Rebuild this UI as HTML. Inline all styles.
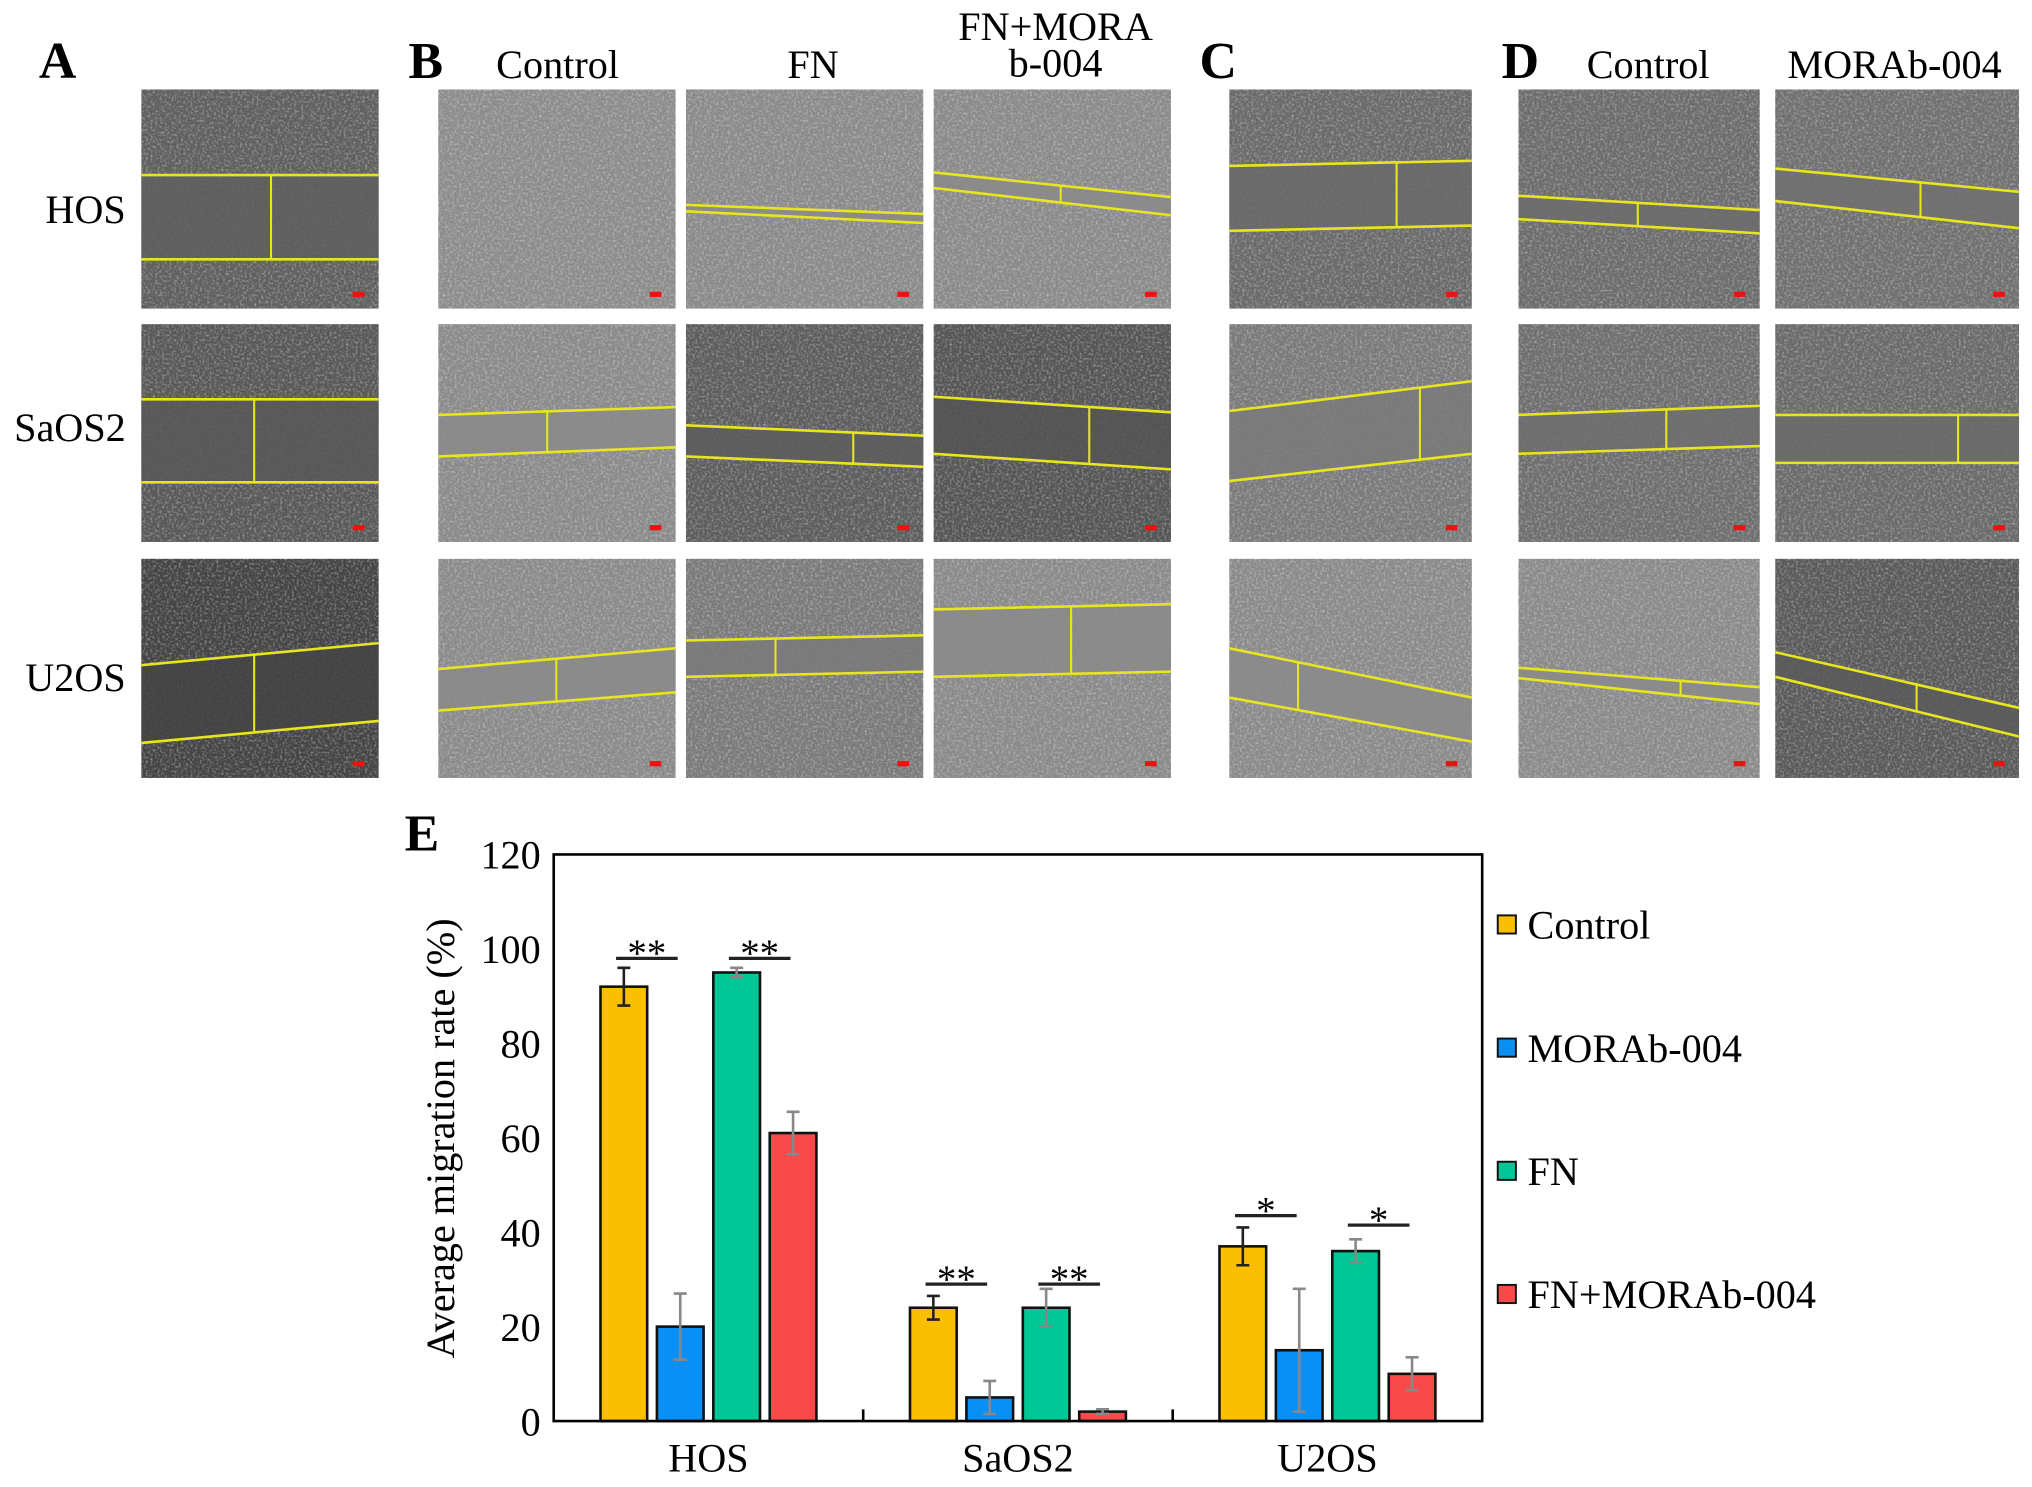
<!DOCTYPE html>
<html><head><meta charset="utf-8"><style>
html,body{margin:0;padding:0;background:#fff}
svg, svg text{font-family:"Liberation Serif","DejaVu Serif",serif}
</style></head><body>
<svg id="fig" width="2032" height="1482" viewBox="0 0 1567 1143" preserveAspectRatio="none" xmlns="http://www.w3.org/2000/svg" font-family="Liberation Serif, DejaVu Serif, serif">
<defs>
<filter id="noise" x="0" y="0" width="100%" height="100%">
<feTurbulence type="fractalNoise" baseFrequency="0.55" numOctaves="2" seed="3"/>
<feColorMatrix type="matrix" values="0 0 0 0 1  0 0 0 0 1  0 0 0 0 1  1.8 0 0 0 -0.8"/>
</filter>
</defs>
<g id="panels"></g>
<g id="labels">
<text x="30" y="60" font-size="40" font-weight="bold">A</text>
<text x="315" y="60" font-size="40" font-weight="bold">B</text>
<text x="925" y="60" font-size="40" font-weight="bold">C</text>
<text x="1158" y="60" font-size="40" font-weight="bold">D</text>
<text x="312" y="656" font-size="40" font-weight="bold">E</text>
<text x="430" y="60" font-size="31" text-anchor="middle">Control</text>
<text x="627" y="60" font-size="31" text-anchor="middle">FN</text>
<text x="814" y="31" font-size="31" text-anchor="middle">FN+MORA</text>
<text x="814" y="59" font-size="31" text-anchor="middle">b-004</text>
<text x="1271" y="60" font-size="31" text-anchor="middle">Control</text>
<text x="1461" y="60" font-size="31" text-anchor="middle">MORAb-004</text>
<text x="97" y="172" font-size="31" text-anchor="end">HOS</text>
<text x="97" y="340" font-size="31" text-anchor="end">SaOS2</text>
<text x="97" y="533" font-size="31" text-anchor="end">U2OS</text>
</g>
<g id="chart"></g>
</svg>
<script>
const NS='http://www.w3.org/2000/svg';
function mk(tag,attrs,parent){const e=document.createElementNS(NS,tag);for(const k in attrs)e.setAttribute(k,attrs[k]);parent.appendChild(e);return e;}

// ---- micrographs ----
const cols=[[109,292],[338,521],[529,712],[720,903],[948,1135],[1171,1357],[1369,1557]];
const rows=[[69,238],[250,418],[431,600]];
const tones=[["#5f5f5f","#585858","#444"],["#8c8c8c","#8a8a8a","#8a8a8a"],["#8a8a8a","#5d5d5d","#7a7a7a"],["#8a8a8a","#555","#8a8a8a"],["#6a6a6a","#7a7a7a","#8a8a8a"],["#6c6c6c","#6e6e6e","#8a8a8a"],["#707070","#6a6a6a","#5a5a5a"]];
const lines=[
 [[135,135,200,200,209],[308,308,372,372,196],[513,496,573,556,196]],
 [null,[320,314,352,345,422],[516,500,548,534,429]],
 [[158,165,163,172,null],[328,336,352,360,658],[494,490,522,518,598]],
 [[133,152,145,166,818],[306,318,350,362,840],[470,466,522,518,826]],
 [[128,124,178,174,1077],[317,294,371,350,1095],[500,538,538,572,1001]],
 [[151,162,169,180,1263],[320,313,350,344,1285],[515,530,523,543,1296]],
 [[130,148,155,176,1481],[320,320,357,357,1510],[503,546,522,568,1478]]
];
const pg=document.getElementById('panels');
cols.forEach((c,ci)=>rows.forEach((r,ri)=>{
 const g=mk('g',{},pg);
 
 
 const w=c[1]-c[0],h=r[1]-r[0];
 mk('rect',{x:c[0],y:r[0],width:w,height:h,fill:tones[ci][ri]},g);
 mk('rect',{x:c[0],y:r[0],width:w,height:h,filter:'url(#noise)',opacity:0.5},g);
 const L=lines[ci][ri];
 if(L){
  mk('polygon',{points:`${c[0]},${L[0]} ${c[1]},${L[1]} ${c[1]},${L[3]} ${c[0]},${L[2]}`,fill:tones[ci][ri],opacity:0.85},g);
  mk('line',{x1:c[0],y1:L[0],x2:c[1],y2:L[1],stroke:'#e6e61e','stroke-width':2},g);
  mk('line',{x1:c[0],y1:L[2],x2:c[1],y2:L[3],stroke:'#e6e61e','stroke-width':2},g);
  if(L[4]){const t=(L[4]-c[0])/w;mk('line',{x1:L[4],y1:L[0]+(L[1]-L[0])*t,x2:L[4],y2:L[2]+(L[3]-L[2])*t,stroke:'#e6e61e','stroke-width':1.6},g);}
 }
 mk('rect',{x:c[1]-20,y:r[1]-13,width:9,height:4,fill:'#f01010'},g);
}));

// ---- chart data ----
const categories=['HOS','SaOS2','U2OS'];
const seriesNames=['Control','MORAb-004','FN','FN+MORAb-004'];
const controlVals=[92,24,37];
const morabVals=[20,5,15];
const fnVals=[95,24,36];
const fnMorabVals=[61,2,10];
const controlErr=[4,2.5,4];
const morabErr=[7,3.5,13];
const fnErr=[1,4,2.5];
const fnMorabErr=[4.5,0.5,3.5];
const yTicks=[0,20,40,60,80,100,120];
const sigLabels=['**','**','**','**','*','*'];
const sigValues=[98,98,29,29,43.5,41.5];
const sigGroups=[0,0,1,1,2,2];
const sigPairStart=[0,2,0,2,0,2];

const colors=['#fbbf00','#0a8ff5','#00c795','#f84a4a'];
const errColors=['#222','#888','#888','#888'];
const X0=427,X1=1143,Y0=1096,Y1=659,YMAX=120;
const y=v=>Y0-(v/YMAX)*(Y0-Y1);
const groupW=(X1-X0)/3;
const barW=36,barStep=43.5;
const xBar=(gi,si)=>X0+groupW*(gi+0.5)+(si-1.5)*barStep-barW/2;
const ch=document.getElementById('chart');
const series=[controlVals,morabVals,fnVals,fnMorabVals];
const errs=[controlErr,morabErr,fnErr,fnMorabErr];

yTicks.forEach(t=>{
 const tx=mk('text',{x:X0-10,y:y(t)+11,'font-size':31,'text-anchor':'end'},ch);
 tx.textContent=t;
 
 
});
categories.forEach((c,gi)=>{
 const tx=mk('text',{x:X0+groupW*(gi+0.5),y:1135,'font-size':31,'text-anchor':'middle'},ch);
 tx.textContent=c;
 
 
 if(gi>0){const tk=mk('line',{x1:X0+groupW*gi,y1:Y0,x2:X0+groupW*gi,y2:Y0-9,stroke:'#000','stroke-width':2},ch);
 
 }
});
series.forEach((vals,si)=>vals.forEach((v,gi)=>{
 const bx=xBar(gi,si);
 const b=mk('rect',{x:bx,y:y(v),width:barW,height:Y0-y(v),fill:colors[si],stroke:'#111','stroke-width':2},ch);
 
 
 const cx=bx+barW/2,e=errs[si][gi];
 const eb=mk('path',{d:`M${cx},${y(v-e)}V${y(v+e)}M${cx-5},${y(v-e)}H${cx+5}M${cx-5},${y(v+e)}H${cx+5}`,stroke:errColors[si],'stroke-width':2,fill:'none'},ch);
 
 
}));
sigLabels.forEach((s,i)=>{
 const a=xBar(sigGroups[i],sigPairStart[i])+barW/2-6,b=xBar(sigGroups[i],sigPairStart[i]+1)+barW/2-2;
 const yy=y(sigValues[i]);
 const ln=mk('line',{x1:a,y1:yy,x2:b,y2:yy,stroke:'#222','stroke-width':2.5},ch);
 
 
 const t=mk('text',{x:(a+b)/2,y:yy+6,'font-size':30,'text-anchor':'middle'},ch);
 t.textContent=s;
 
 
});
const fr=mk('rect',{x:X0,y:Y1,width:X1-X0,height:Y0-Y1,fill:'none',stroke:'#000','stroke-width':2},ch);


const yt=mk('text',{x:0,y:0,'font-size':31,'text-anchor':'middle',transform:'translate(350,878) rotate(-90)'},ch);
yt.textContent='Average migration rate (%)';


seriesNames.forEach((n,i)=>{
 const ly=714+i*95;
 const sq=mk('rect',{x:1155,y:ly-8,width:14,height:14,fill:colors[i],stroke:'#111','stroke-width':1.5},ch);
 
 
 const t=mk('text',{x:1178,y:ly+10,'font-size':31},ch);
 t.textContent=n;
 
 
});
</script>
</body></html>
